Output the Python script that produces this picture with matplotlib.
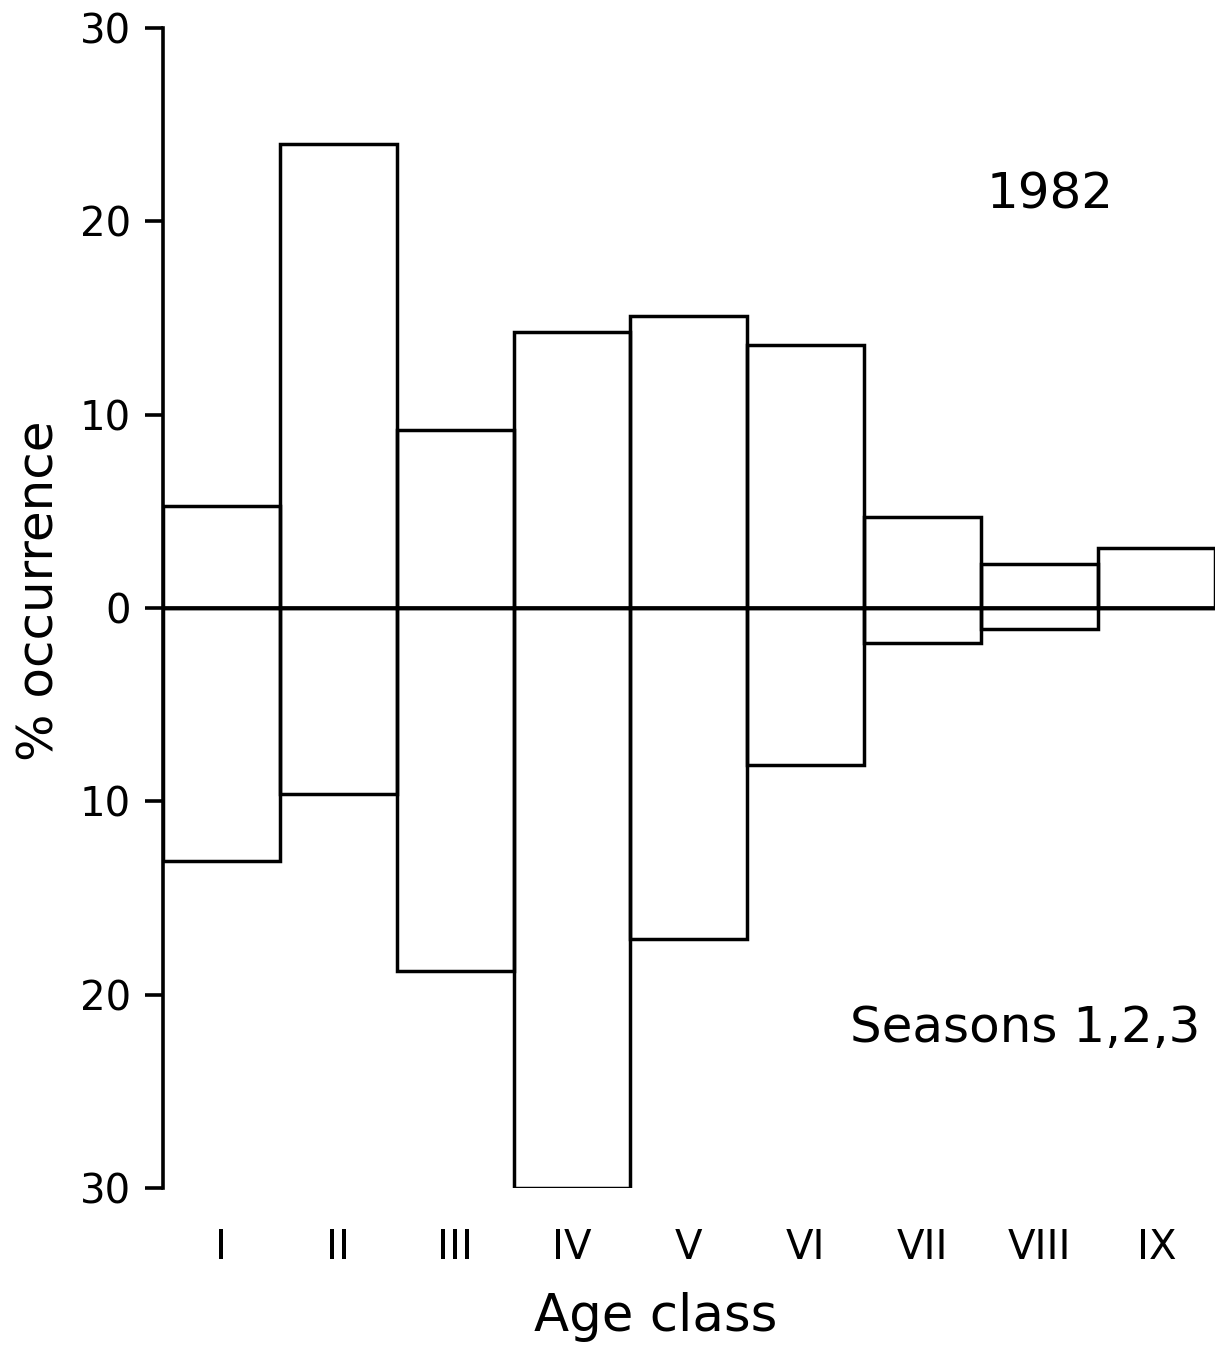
import matplotlib.pyplot as plt
import numpy as np

plt.rcParams['font.family'] = ['DejaVu Sans']

# age classes and % occurrence above / below the zero line
age_classes = ['I', 'II', 'III', 'IV', 'V', 'VI', 'VII', 'VIII', 'IX']
upper = [5.3, 24.0, 9.2, 14.3, 15.1, 13.6, 4.7, 2.3, 3.1]
lower = [13.1, 9.6, 18.8, 30.0, 17.1, 8.1, 1.8, 1.1, 0.0]
y_ticks = [30, 20, 10, 0, -10, -20, -30]

fig = plt.figure(figsize=(12.16, 13.46), dpi=100)
ax = fig.add_axes([0.134, 0.1174, 0.865, 0.8617])

x = np.arange(len(age_classes)) + 0.5
ax.bar(x, upper, width=1.0, fill=False, edgecolor='black', linewidth=2.5)
ax.bar(x, -np.array(lower), width=1.0, fill=False, edgecolor='black', linewidth=2.5)
ax.axhline(0, color='black', linewidth=2.6)

ax.set_xlim(0, 9)
ax.set_ylim(-30, 30)

for s in ['top', 'right', 'bottom']:
    ax.spines[s].set_visible(False)
ax.spines['left'].set_linewidth(2.6)

ax.set_yticks(y_ticks)
ax.set_yticklabels([str(abs(v)) for v in y_ticks], fontsize=29)
ax.tick_params(axis='y', length=13, width=2.6, pad=10)

ax.set_xticks(x)
ax.set_xticklabels(age_classes, fontsize=29)
ax.tick_params(axis='x', length=0, pad=29)

ax.set_xlabel('Age class', fontsize=37, labelpad=17, x=0.468)
ax.set_ylabel('% occurrence', fontsize=36, labelpad=12, y=0.515)

ax.text(7.59, 21.4, '1982', fontsize=36, ha='center', va='center')
ax.text(7.38, -21.7, 'Seasons 1,2,3', fontsize=36, ha='center', va='center')

fig.savefig('out.png', dpi=100)
